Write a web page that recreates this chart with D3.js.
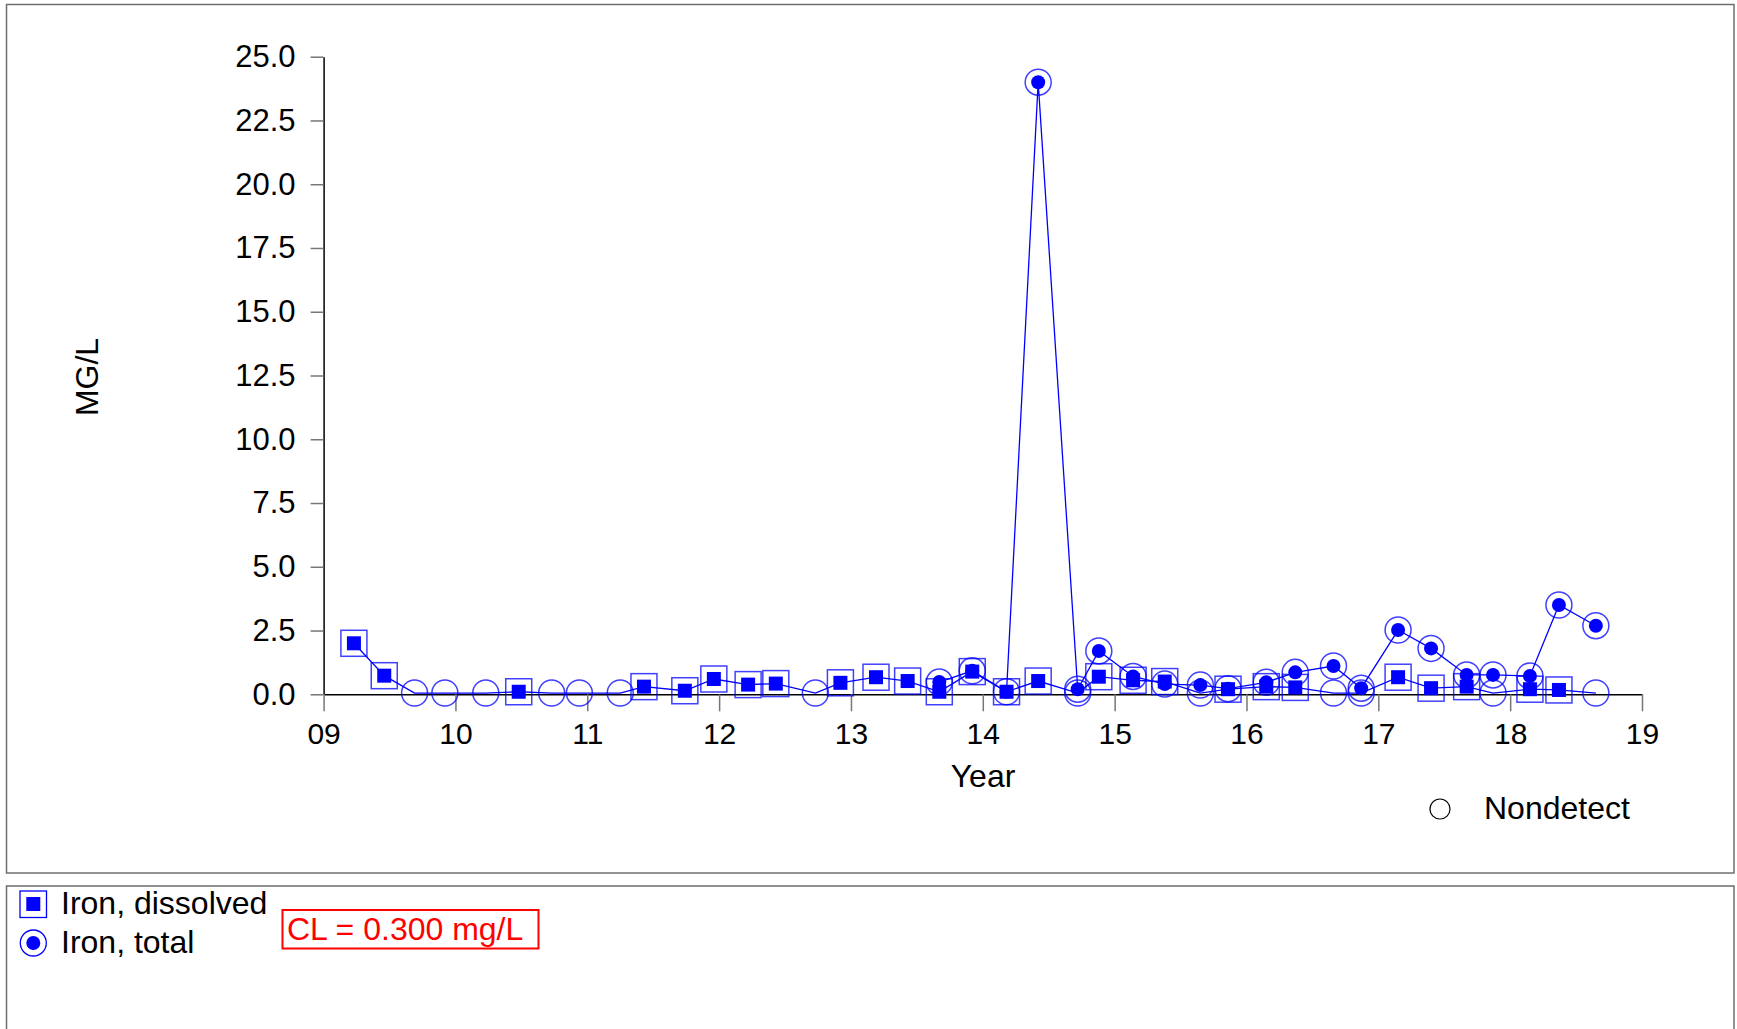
<!DOCTYPE html>
<html>
<head>
<meta charset="utf-8">
<script src="https://cdn.jsdelivr.net/npm/d3@7"></script>
<style>
body { margin: 0; background: #fff; }
text { font-family: "Liberation Sans", Arial, sans-serif; }
</style>
</head>
<body>
<div id="chart"></div>
<script>
// sample dates as years since 2000, values in mg/L, nondetect flags
var dissolvedYears = [9.23, 9.46, 9.69, 9.92, 10.23, 10.48, 10.73, 10.94, 11.25, 11.43, 11.74, 11.96, 12.22, 12.43, 12.73,
  12.92, 13.19, 13.43, 13.67, 13.92, 14.18, 14.42, 14.72, 14.88, 15.14, 15.38, 15.65, 15.86, 16.15, 16.37, 16.66, 16.87,
  17.15, 17.40, 17.67, 17.87, 18.15, 18.37, 18.65];
var dissolvedValues = [2.0, 0.73, 0.05, 0.05, 0.05, 0.1, 0.05, 0.05, 0.05, 0.3, 0.14, 0.6, 0.38, 0.42, 0.05,
  0.45, 0.67, 0.52, 0.1, 0.89, 0.1, 0.52, 0.05, 0.69, 0.55, 0.5, 0.05, 0.2, 0.3, 0.27, 0.05, 0.05,
  0.67, 0.24, 0.3, 0.05, 0.2, 0.17, 0.05];
var dissolvedND = [0, 0, 1, 1, 1, 0, 1, 1, 1, 0, 0, 0, 0, 0, 1,
  0, 0, 0, 0, 0, 0, 0, 1, 0, 0, 0, 1, 0, 0, 0, 1, 1,
  0, 0, 0, 1, 0, 0, 1];

var totalYears = [13.67, 13.92, 14.18, 14.42, 14.72, 14.88, 15.14, 15.38, 15.65, 15.86, 16.15, 16.37, 16.66, 16.87,
  17.15, 17.40, 17.67, 17.87, 18.15, 18.37, 18.65];
var totalValues = [0.48, 0.92, 0.1, 24.0, 0.2, 1.7, 0.7, 0.4, 0.36, 0.22, 0.47, 0.86, 1.11, 0.24,
  2.52, 1.8, 0.76, 0.76, 0.72, 3.5, 2.69];
var totalND = [0, 0, 0, 0, 0, 0, 0, 0, 0, 0, 0, 0, 0, 0, 0, 0, 0, 0, 0, 0, 0];

var yTicks = [0, 2.5, 5, 7.5, 10, 12.5, 15, 17.5, 20, 22.5, 25];
var xTicks = [9, 10, 11, 12, 13, 14, 15, 16, 17, 18, 19];

var width = 1737, height = 1029;
var blue = "#0000ff";

var svg = d3.select("#chart")
  .append("svg")
  .attr("width", width)
  .attr("height", height);

// frames
svg.append("rect").attr("x", 6.5).attr("y", 4.5).attr("width", 1727.5).attr("height", 868.5)
  .attr("fill", "none").attr("stroke", "#6e6e6e").attr("stroke-width", 1.5);
svg.append("rect").attr("x", 6.5).attr("y", 886).attr("width", 1727.5).attr("height", 160)
  .attr("fill", "none").attr("stroke", "#6e6e6e").attr("stroke-width", 1.5);

var x = d3.scaleLinear().domain([9, 19]).range([323.6, 1642]);
var y = d3.scaleLinear().domain([0, 25]).range([694.3, 56.7]);

// y axis
var gy = svg.append("g")
  .attr("transform", "translate(" + x(9) + ",0)")
  .call(d3.axisLeft(y).tickValues(yTicks).tickFormat(d3.format(".1f"))
    .tickSize(13).tickSizeOuter(0).tickPadding(15));
gy.selectAll(".tick line").attr("stroke", "#777").attr("stroke-width", 1.5);
gy.select(".domain").attr("stroke", "#000").attr("stroke-width", 1.5);
gy.selectAll("text").attr("font-size", "31px").attr("fill", "#000")
  .attr("font-family", "Liberation Sans, Arial, sans-serif");

// x axis
var gx = svg.append("g")
  .attr("transform", "translate(0," + y(0) + ")")
  .call(d3.axisBottom(x).tickValues(xTicks).tickFormat(d3.format("02d"))
    .tickSize(17).tickSizeOuter(0).tickPadding(11));
gx.selectAll(".tick line").attr("stroke", "#777").attr("stroke-width", 1.5);
gx.select(".domain").attr("stroke", "#000").attr("stroke-width", 1.5);
gx.selectAll("text").attr("font-size", "30px").attr("fill", "#000")
  .attr("font-family", "Liberation Sans, Arial, sans-serif");

// axis titles
svg.append("text")
  .attr("transform", "translate(98,377) rotate(-90)")
  .attr("text-anchor", "middle")
  .attr("font-size", "32px")
  .text("MG/L");

svg.append("text")
  .attr("x", 983).attr("y", 787)
  .attr("text-anchor", "middle")
  .attr("font-size", "32px")
  .text("Year");

// nondetect key
svg.append("circle").attr("cx", 1440).attr("cy", 809).attr("r", 10)
  .attr("fill", "none").attr("stroke", "#000").attr("stroke-width", 1.2);
svg.append("text").attr("x", 1484).attr("y", 819).attr("font-size", "32px").text("Nondetect");

var dissolved = dissolvedYears.map(function(d, i) {
  return {yr: d, v: dissolvedValues[i], nd: dissolvedND[i]};
});
var total = totalYears.map(function(d, i) {
  return {yr: d, v: totalValues[i], nd: totalND[i]};
});

var line = d3.line()
  .x(function(d) { return x(d.yr); })
  .y(function(d) { return y(d.v); });

[dissolved, total].forEach(function(s) {
  svg.append("path").datum(s)
    .attr("d", line)
    .attr("fill", "none")
    .attr("stroke", blue)
    .attr("stroke-width", 1.3);
});

// nondetects: open circles
[dissolved, total].forEach(function(s) {
  svg.selectAll(null)
    .data(s.filter(function(d) { return d.nd; }))
    .enter()
    .append("circle")
    .attr("cx", function(d) { return x(d.yr); })
    .attr("cy", function(d) { return y(d.v); })
    .attr("r", 13)
    .attr("fill", "none")
    .attr("stroke", blue)
    .attr("stroke-opacity", 0.75)
    .attr("stroke-width", 1.5);
});

// dissolved detects: filled square in an outlined square
var dis = dissolved.filter(function(d) { return !d.nd; });
svg.selectAll(null).data(dis).enter()
  .append("rect")
  .attr("x", function(d) { return x(d.yr) - 13; })
  .attr("y", function(d) { return y(d.v) - 13; })
  .attr("width", 26).attr("height", 26)
  .attr("fill", "none")
  .attr("stroke", blue).attr("stroke-opacity", 0.75).attr("stroke-width", 1.5);
svg.selectAll(null).data(dis).enter()
  .append("rect")
  .attr("x", function(d) { return x(d.yr) - 7; })
  .attr("y", function(d) { return y(d.v) - 7; })
  .attr("width", 14).attr("height", 14)
  .attr("fill", blue);

// total detects: filled dot in an outlined circle
var tot = total.filter(function(d) { return !d.nd; });
svg.selectAll(null).data(tot).enter()
  .append("circle")
  .attr("cx", function(d) { return x(d.yr); })
  .attr("cy", function(d) { return y(d.v); })
  .attr("r", 13)
  .attr("fill", "none")
  .attr("stroke", blue).attr("stroke-opacity", 0.75).attr("stroke-width", 1.5);
svg.selectAll(null).data(tot).enter()
  .append("circle")
  .attr("cx", function(d) { return x(d.yr); })
  .attr("cy", function(d) { return y(d.v); })
  .attr("r", 7)
  .attr("fill", blue);

// legend
svg.append("rect").attr("x", 20).attr("y", 891).attr("width", 26.5).attr("height", 26.5)
  .attr("fill", "none").attr("stroke", blue).attr("stroke-width", 1.3);
svg.append("rect").attr("x", 26.3).attr("y", 897).attr("width", 14).attr("height", 14)
  .attr("fill", blue);
svg.append("text").attr("x", 61).attr("y", 914).attr("font-size", "32px").text("Iron, dissolved");

svg.append("circle").attr("cx", 33.3).attr("cy", 943).attr("r", 13)
  .attr("fill", "none").attr("stroke", blue).attr("stroke-width", 1.3);
svg.append("circle").attr("cx", 33.3).attr("cy", 943).attr("r", 7).attr("fill", blue);
svg.append("text").attr("x", 61).attr("y", 953).attr("font-size", "32px").text("Iron, total");

// control limit box
svg.append("rect").attr("x", 282.5).attr("y", 910).attr("width", 256).attr("height", 38.5)
  .attr("fill", "none").attr("stroke", "#ff0000").attr("stroke-width", 2);
svg.append("text").attr("x", 287).attr("y", 940).attr("font-size", "32px")
  .attr("fill", "#ff0000").text("CL = 0.300 mg/L");
</script>
</body>
</html>
